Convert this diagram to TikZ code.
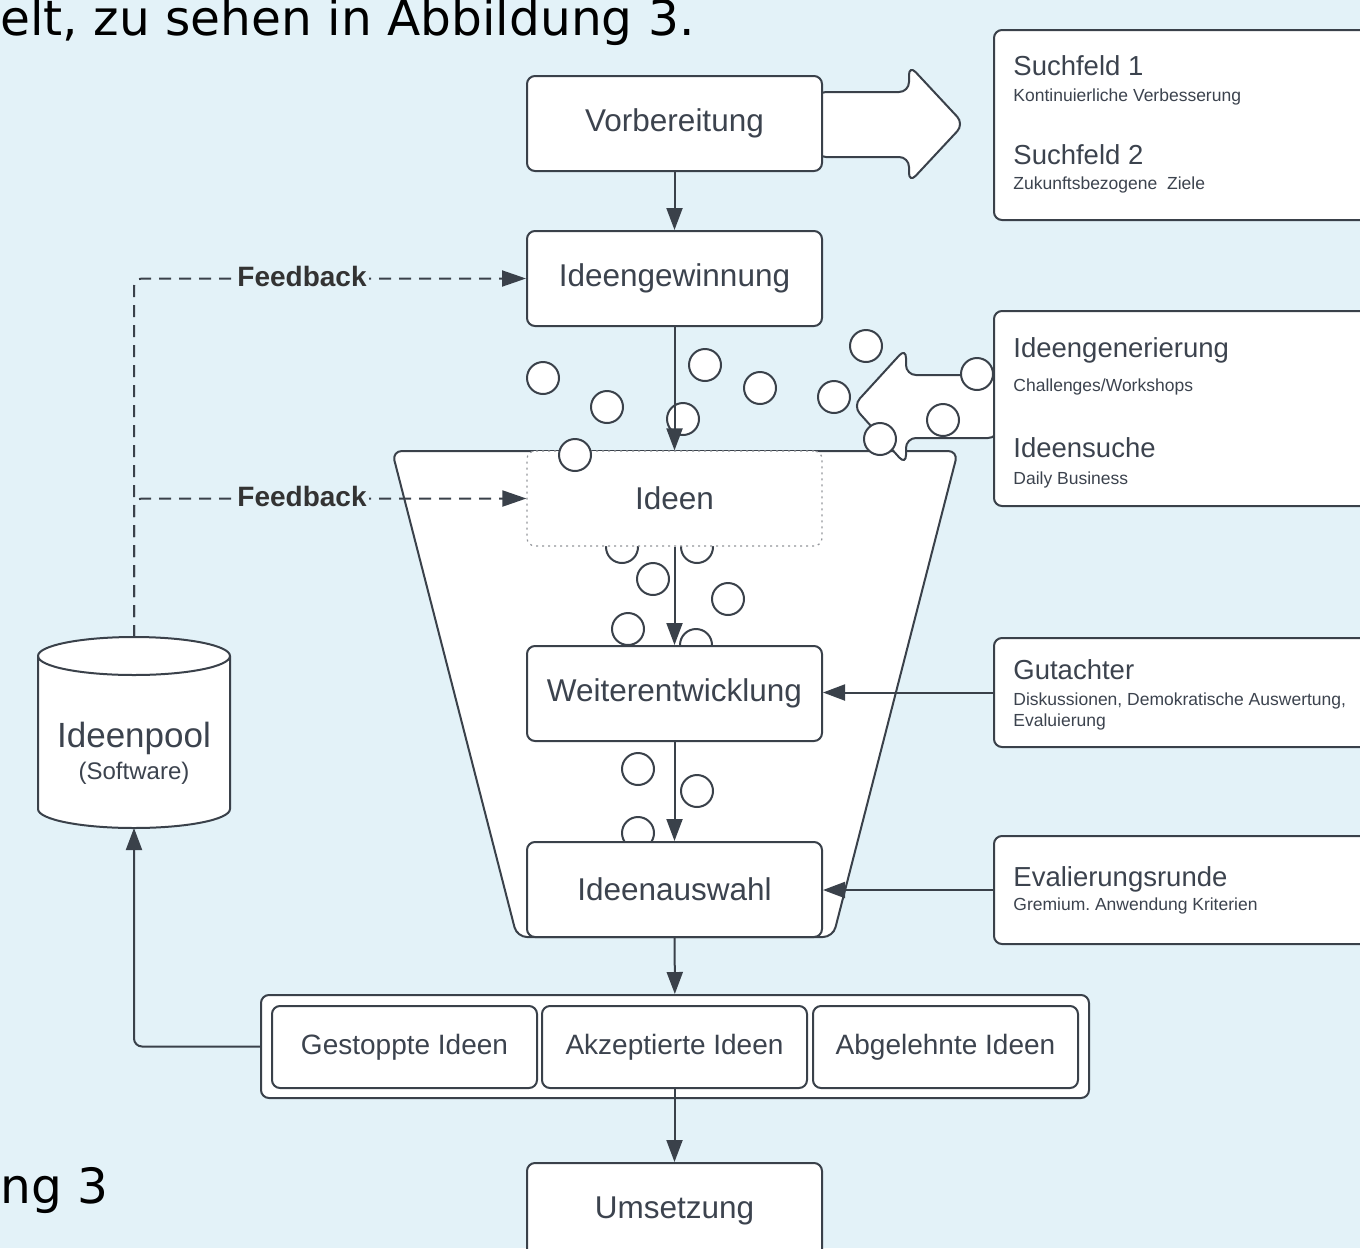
\documentclass[tikz,border=0pt]{standalone}
\usepackage{fontspec}
\setmainfont{Liberation Sans}
\newfontfamily\dejavu{DejaVu Sans}
\usetikzlibrary{arrows.meta}
\definecolor{bg}{RGB}{227,242,248}
\definecolor{ln}{RGB}{58,65,74}
\definecolor{tx}{RGB}{60,67,78}
\definecolor{fbc}{RGB}{51,51,51}
\frenchspacing
\begin{document}
\begin{tikzpicture}[x=0.5pt,y=-0.5pt,
  box/.style={draw=ln,fill=white,line width=1pt,rounded corners=4pt,minimum width=147.5pt,minimum height=47.5pt,inner sep=0pt,text=tx,font=\fontsize{15.75pt}{18pt}\selectfont},
  innerbox/.style={draw=ln,fill=white,line width=1pt,rounded corners=4pt,minimum width=132.5pt,minimum height=41pt,inner sep=0pt,text=tx,font=\fontsize{14pt}{17pt}\selectfont},
  sidebox/.style={draw=ln,fill=white,line width=1pt,rounded corners=4pt,inner sep=0pt,anchor=north west,minimum width=200pt},
  titletext/.style={anchor=base west,inner sep=0pt,text=tx,font=\fontsize{13.75pt}{16pt}\selectfont},
  subtext/.style={anchor=base west,inner sep=0pt,text=tx,font=\fontsize{8.75pt}{10pt}\selectfont},
  bubble/.style={draw=ln,fill=white,line width=1pt},
  bigarrow/.style={draw=ln,fill=white,line width=1pt,rounded corners=5pt},
  conn/.style={draw=ln,line width=1pt,-{Triangle[length=11pt,width=8pt]}},
  dashconn/.style={draw=ln,line width=1pt,dash pattern=on 6pt off 4pt,-{Triangle[length=12pt,width=8pt]},rounded corners=4pt},
  fblabel/.style={fill=bg,inner sep=1pt,text=fbc,font=\bfseries\fontsize{14pt}{16pt}\selectfont},
  bigtext/.style={anchor=base west,inner sep=0pt,text=black,font=\dejavu\fontsize{24.3pt}{28pt}\selectfont}
]
\useasboundingbox (0,0) rectangle (1360,1248);
\clip (0,0) rectangle (1360,1248);
\fill[bg] (0,0) rectangle (1360,1248);

% page text
\node[bigtext] (toptext) at (0,35) {elt, zu sehen in Abbildung 3.};
\node[bigtext] (bottext) at (0,1203) {ng 3};

% funnel
\draw[ln,line width=1pt,fill=white,rounded corners=5pt] (392,451) -- (958,451) -- (833,937) -- (517,937) -- cycle;

% bubbles hidden behind boxes
\foreach \p in {(622,547),(697,547),(696,645),(638,833)} \draw[bubble] \p circle (16);

% big arrows
\draw[bigarrow] (816,92) -- (909,92) -- (909,65) -- (964,124) -- (909,183) -- (909,157) -- (816,157) -- cycle;
\draw[bigarrow] (998,375) -- (906,375) -- (906,348) -- (853,406) -- (906,465) -- (906,438) -- (998,438) -- cycle;

% main boxes
\node[box] (vor) at (674.5,123.5) {Vorbereitung};
\node[box] (gew) at (674.5,278.5) {Ideengewinnung};
\node[box,draw=ln!55,dotted,line width=0.6pt] (ideen) at (674.5,498.5) {Ideen};
\node[box] (weiter) at (674.5,693.5) {Weiterentwicklung};
\node[box] (auswahl) at (674.5,889.5) {Ideenauswahl};
\node[box] (ums) at (674.5,1210.5) {Umsetzung};

% result group
\node[draw=ln,fill=white,line width=1pt,rounded corners=4pt,minimum width=414pt,minimum height=51.5pt,inner sep=0pt] (group) at (675,1046.5) {};
\node[innerbox] (gest) at (404.5,1047) {Gestoppte Ideen};
\node[innerbox] (akz) at (674.5,1047) {Akzeptierte Ideen};
\node[innerbox] (abg) at (945.5,1047) {Abgelehnte Ideen};

% side boxes
\node[sidebox,minimum height=95pt] (such) at (993,29) {};
\node[titletext] (s1) at (1013,75) {Suchfeld 1};
\node[subtext] (s1b) at (1013,101) {Kontinuierliche Verbesserung};
\node[titletext] (s2) at (1013,164) {Suchfeld 2};
\node[subtext] (s2b) at (1013,189) {Zukunftsbezogene\ \ Ziele};

\node[sidebox,minimum height=97.5pt] (gen) at (993,310) {};
\node[titletext] (g1) at (1013,357) {Ideengenerierung};
\node[subtext] (g1b) at (1013,391) {Challenges/Workshops};
\node[titletext] (g2) at (1013,457) {Ideensuche};
\node[subtext] (g2b) at (1013,484) {Daily Business};

\node[sidebox,minimum height=54.5pt] (gut) at (993,637) {};
\node[titletext] (gu1) at (1013,679) {Gutachter};
\node[subtext] (gu1b) at (1013,705) {Diskussionen, Demokratische Auswertung,};
\node[subtext] (gu1c) at (1013,726) {Evaluierung};

\node[sidebox,minimum height=54pt] (ev) at (993,835) {};
\node[titletext] (ev1) at (1013,886) {Evalierungsrunde};
\node[subtext] (ev1b) at (1013,910) {Gremium. Anwendung Kriterien};

% cylinder Ideenpool
\draw[ln,line width=1pt,fill=white] (38,656) -- (38,809)
  .. controls (38,819.5) and (81,828) .. (134,828)
  .. controls (187,828) and (230,819.5) .. (230,809) -- (230,656)
  .. controls (230,645.5) and (187,637) .. (134,637)
  .. controls (81,637) and (38,645.5) .. (38,656) -- cycle;
\draw[ln,line width=1pt] (38,656) .. controls (38,666.5) and (81,675) .. (134,675)
  .. controls (187,675) and (230,666.5) .. (230,656);
\coordinate (pooltop) at (134,637);
\coordinate (poolbot) at (134,828);
\node[anchor=base,inner sep=0pt,text=tx,font=\fontsize{17.5pt}{20pt}\selectfont] (pool1) at (134,747) {Ideenpool};
\node[anchor=base,inner sep=0pt,text=tx,font=\fontsize{12pt}{14pt}\selectfont] (pool2) at (134,779) {(Software)};

% bubbles in front
\foreach \p in {(543,378),(607,407),(683,419),(705,365),(760,388),(834,397),(866,346),(977,374),(943,420),(880,439),(575,455),(653,579),(728,599),(628,629),(638,769),(697,791)} \draw[bubble] \p circle (16);

% connectors
\draw[conn] (vor) -- (gew);
\draw[conn] (gew) -- (ideen);
\draw[conn] (ideen) -- (weiter);
\draw[conn] (weiter) -- (auswahl);
\draw[conn] (auswahl) -- (group);
\draw[conn] (akz) -- (ums);
\draw[conn] (gut.west) -- (gut.west -| weiter.east);
\draw[conn] (ev.west) -- (ev.west -| auswahl.east);
\draw[conn,rounded corners=4pt] (group.west) -| (poolbot);
\draw[dashconn] (pooltop) |- (gew.west);
\draw[dashconn] (pooltop) |- (ideen.west);
\node[fblabel] (fb1) at (302,276) {Feedback};
\node[fblabel] (fb2) at (302,496) {Feedback};
\end{tikzpicture}
\end{document}
